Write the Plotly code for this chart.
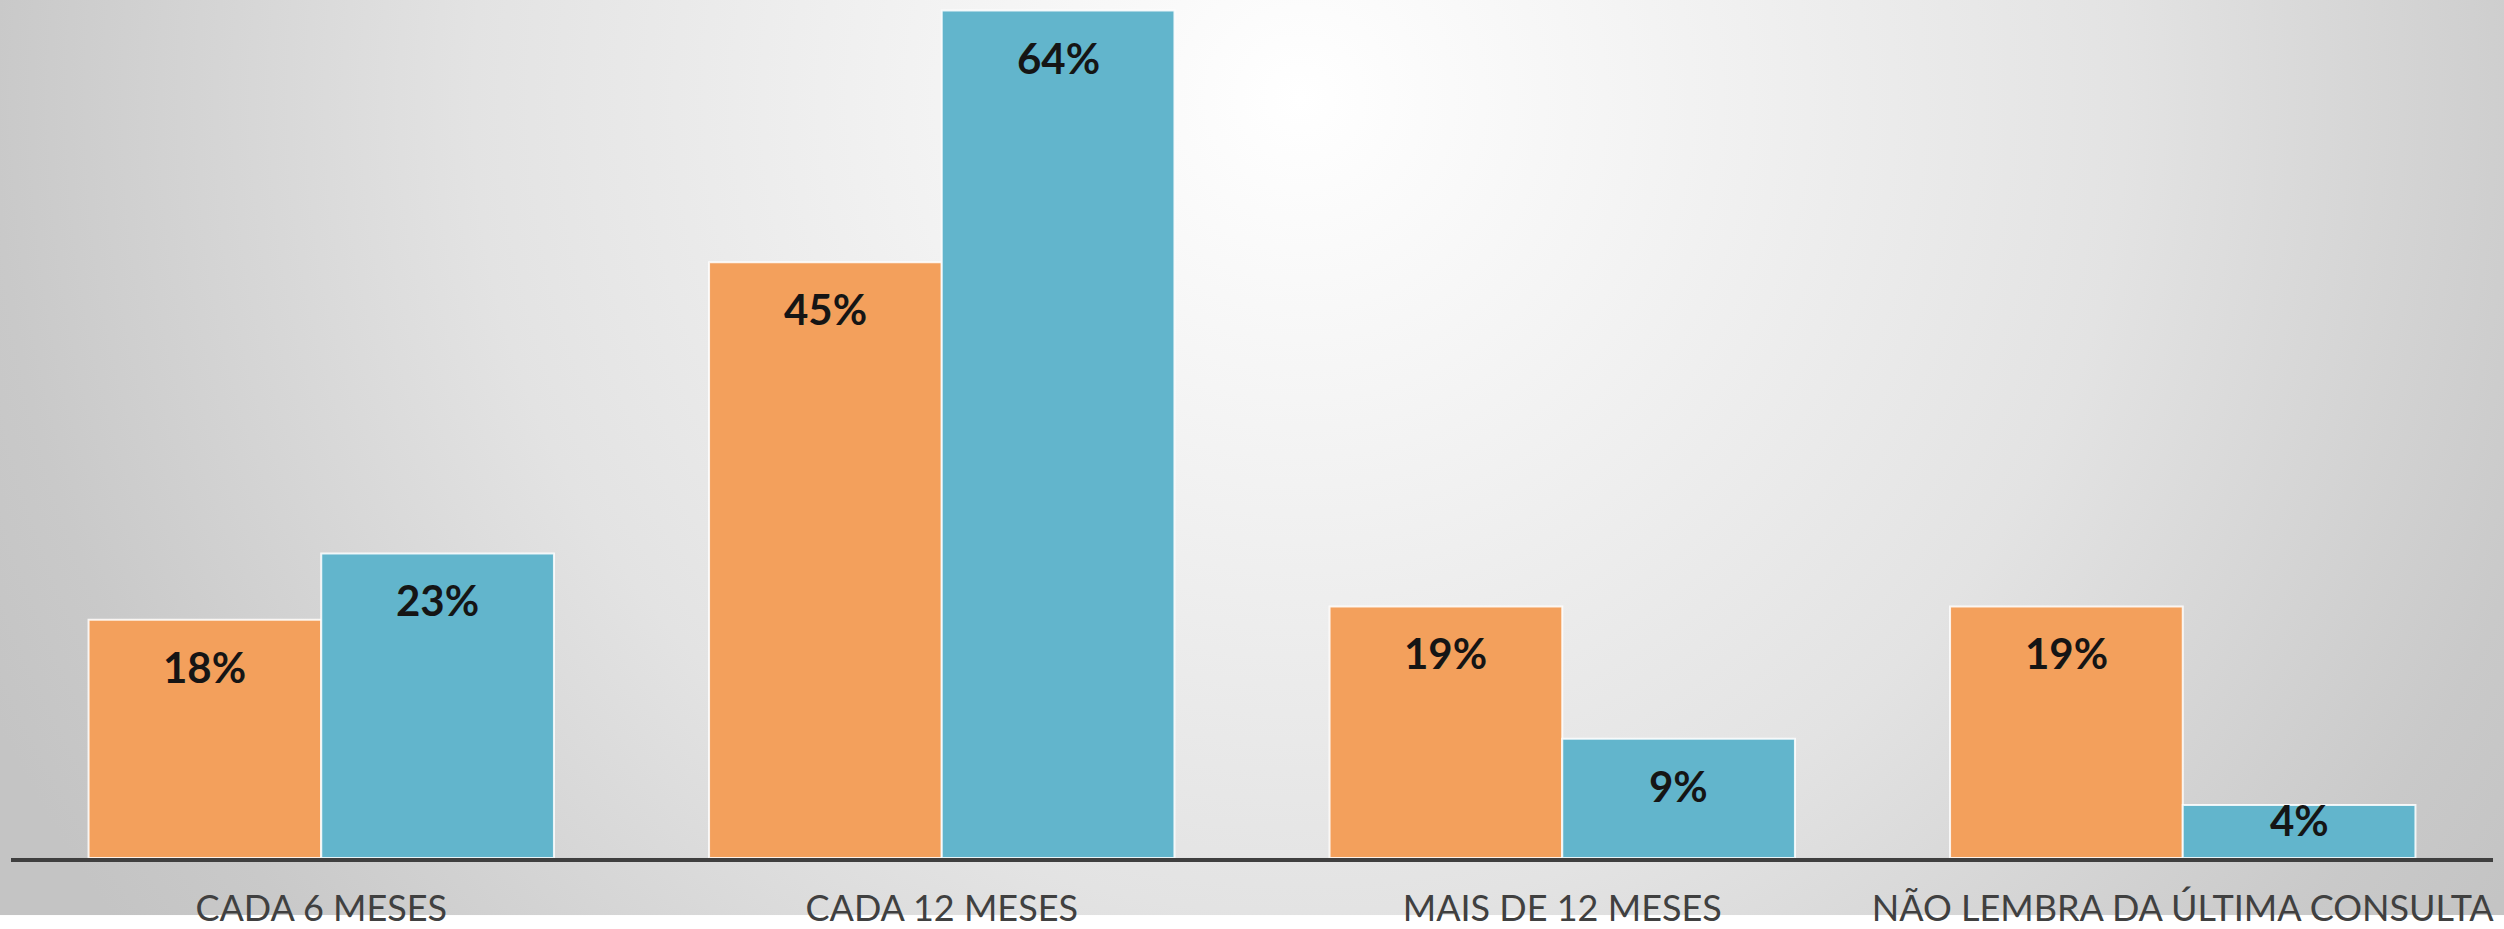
"""Bar chart: frequência de consultas (recriação em Plotly)."""

import base64
import plotly.graph_objects as go

# Dados
CATEGORIAS = ['CADA 6 MESES', 'CADA 12 MESES', 'MAIS DE 12 MESES', 'NÃO LEMBRA DA ÚLTIMA CONSULTA']
SERIE_A = [18, 45, 19, 19]
SERIE_B = [23, 64, 9, 4]
ROTULOS_A = ['18%', '45%', '19%', '19%']
ROTULOS_B = ['23%', '64%', '9%', '4%']

# Cores / layout
ORANGE = '#F3A05C'
BLUE = '#62B5CC'
AXIS_GRAY = '#3F3F3F'
TEXT_GRAY = '#404040'
FONT = 'Lato, sans-serif'

W, H = 2504, 929
M_L, M_R, M_T, M_B = 11, 11, 0, 58
Y_MAX = 64.8
BARGAP = 0.25

plot_w = W - M_L - M_R
plot_h = H - M_T - M_B
px_per_unit = plot_h / Y_MAX
bar_offset = plot_w / len(CATEGORIAS) * (1 - BARGAP) / 4


def background_uri():
    svg = f'''<svg xmlns="http://www.w3.org/2000/svg" width="{W}" height="{H}">
<defs><radialGradient id="g" gradientUnits="userSpaceOnUse" cx="1300" cy="100" r="1450">
<stop offset="0" stop-color="#ffffff"/>
<stop offset="0.21" stop-color="#f5f5f5"/>
<stop offset="0.57" stop-color="#e3e3e3"/>
<stop offset="0.9" stop-color="#c9c9c9"/>
<stop offset="1" stop-color="#c4c4c4"/>
</radialGradient></defs>
<rect width="{W}" height="{H}" fill="url(#g)"/></svg>'''
    return 'data:image/svg+xml;base64,' + base64.b64encode(svg.encode()).decode()


def label_shift(value):
    h = value * px_per_unit
    return -47 if h > 100 else -0.27 * h


fig = go.Figure()
fig.add_trace(go.Bar(
    x=CATEGORIAS, y=SERIE_A, marker=dict(color=ORANGE, line=dict(color='rgba(255,255,255,0.85)', width=2)),
    hoverinfo='skip',
))
fig.add_trace(go.Bar(
    x=CATEGORIAS, y=SERIE_B, marker=dict(color=BLUE, line=dict(color='rgba(255,255,255,0.85)', width=2)),
    hoverinfo='skip',
))

annotations = []
for cat, va, vb, la, lb in zip(CATEGORIAS, SERIE_A, SERIE_B, ROTULOS_A, ROTULOS_B):
    for v, lab, xs in ((va, la, -bar_offset), (vb, lb, bar_offset)):
        annotations.append(dict(
            x=cat, y=v, xref='x', yref='y', text=lab, showarrow=False,
            xshift=xs, yshift=label_shift(v), yanchor='middle',
            font=dict(family=FONT, size=42, color='#151515', weight='bold'),
        ))

fig.update_layout(
    width=W, height=H,
    margin=dict(l=M_L, r=M_R, t=M_T, b=M_B),
    paper_bgcolor='white',
    plot_bgcolor='rgba(0,0,0,0)',
    barmode='group', bargap=BARGAP, bargroupgap=0,
    showlegend=False,
    font=dict(family=FONT, color=TEXT_GRAY),
    xaxis=dict(
        showline=True, linecolor=AXIS_GRAY, linewidth=4, showgrid=False,
        ticks='', tickfont=dict(size=36, color=TEXT_GRAY), ticklabelstandoff=16,
    ),
    yaxis=dict(range=[0, Y_MAX], visible=False, showgrid=False, zeroline=False),
    annotations=annotations,
    images=[dict(
        source=background_uri(), xref='paper', yref='paper',
        x=-M_L / plot_w, y=1 + M_T / plot_h, sizex=W / plot_w, sizey=H / plot_h,
        xanchor='left', yanchor='top', sizing='stretch', layer='below',
    )],
)

fig.write_html(
    'out.html',
    config={'displayModeBar': False},
    post_script="document.body.style.margin='0';document.body.style.overflow='hidden';",
)
